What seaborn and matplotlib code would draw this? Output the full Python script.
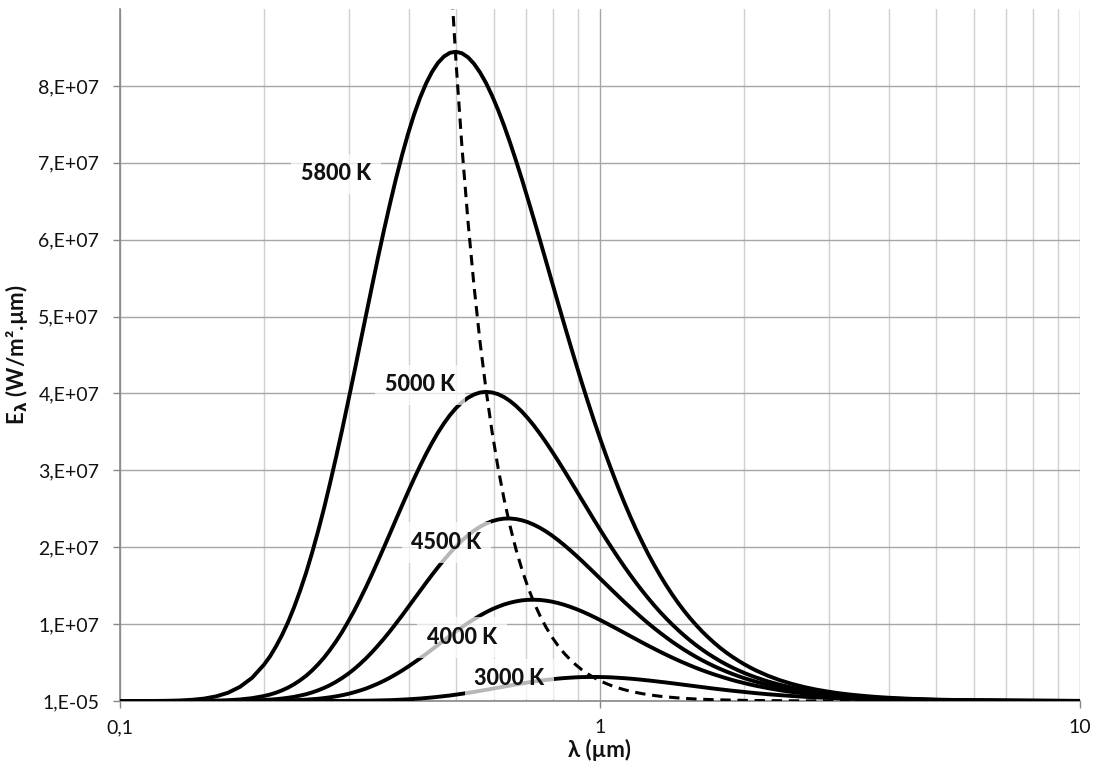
import numpy as np
import pandas as pd
import matplotlib
matplotlib.use("Agg")
import matplotlib.pyplot as plt
import seaborn as sns
from matplotlib.ticker import LogLocator, NullFormatter

# wavelength (µm), main grid
wavelength = [
    0.1000, 0.1059, 0.1122, 0.1189, 0.1259, 0.1334, 0.1413, 0.1496, 0.1585, 0.1679,
    0.1778, 0.1884, 0.1995, 0.2113, 0.2239, 0.2371, 0.2512, 0.2661, 0.2818, 0.2985,
    0.3162, 0.3350, 0.3548, 0.3758, 0.3981, 0.4217, 0.4467,
    0.4732, 0.5012, 0.5309, 0.5623, 0.5957, 0.6310, 0.6683, 0.7079, 0.7499, 0.7943,
    0.8414, 0.8913, 0.9441, 1.0000, 1.0593, 1.1220, 1.1885, 1.2589, 1.3335, 1.4125,
    1.4962, 1.5849, 1.6788, 1.7783, 1.8836, 1.9953, 2.1135,
    2.2387, 2.3714, 2.5119, 2.6607, 2.8184, 2.9854, 3.1623, 3.3497, 3.5481, 3.7584,
    3.9811, 4.2170, 4.4668, 4.7315, 5.0119, 5.3088, 5.6234, 5.9566, 6.3096, 6.6834,
    7.0795, 7.4989, 7.9433, 8.4140, 8.9125, 9.4406, 10.0000,
]
# extra wavelengths (µm) read around the peaks
wavelength_mid = [
    0.2054, 0.2175, 0.2304, 0.2441, 0.2585, 0.2738, 0.2901, 0.3073, 0.3255, 0.3447,
    0.3652, 0.3868, 0.4097, 0.4340, 0.4597, 0.4870, 0.5158, 0.5464, 0.5788, 0.6131,
    0.6494, 0.6879, 0.7286, 0.7718, 0.8175, 0.8660, 0.9173, 0.9716, 1.0292, 1.0902,
    1.1548, 1.2232, 1.2957, 1.3725, 1.4538, 1.5399, 1.6312, 1.7278, 1.8302, 1.9387,
    2.0535,
]

# spectral emissive power, in units of 1e4 W/m².µm
E_5800 = [
    0, 0, 1, 1, 3, 7, 16, 31, 60, 107, 184, 301, 472, 709, 1025, 1429, 1924, 2506, 3166, 3885,
    4638, 5396, 6125, 6794, 7375, 7843, 8182,
    8383, 8444, 8372, 8176, 7874, 7485, 7028, 6524, 5992, 5449, 4909, 4385, 3886, 3417, 2985,
    2590, 2234, 1916, 1636, 1389, 1174, 989, 830, 693, 578, 480, 397,
    328, 270, 222, 182, 149, 122, 99, 81, 66, 53, 43, 35, 28, 23, 18, 15, 12, 10, 8, 6, 5, 4,
    3, 3, 2, 2, 1,
]
E_5800_mid = [
    581, 856, 1216, 1665, 2204, 2828, 3520, 4259, 5019, 5766, 6469, 7097, 7624, 8030, 8300,
    8431, 8424, 8288, 8038, 7689, 7264, 6781, 6261, 5721, 5178, 4645, 4132, 3647, 3196, 2783,
    2407, 2071, 1772, 1508, 1278, 1078, 906, 759, 633, 527, 437,
]
E_5000 = [
    0, 0, 0, 0, 0, 0, 1, 2, 5, 10, 20, 37, 65, 108, 174, 268, 396, 564, 774, 1028,
    1322, 1649, 2000, 2361, 2718, 3055, 3357,
    3612, 3810, 3944, 4012, 4013, 3953, 3838, 3676, 3475, 3247, 3001, 2744, 2486, 2231, 1986,
    1754, 1538, 1340, 1159, 998, 854, 727, 616, 520, 437, 366, 306,
    254, 211, 174, 144, 118, 97, 80, 65, 53, 43, 35, 29, 23, 19, 15, 12, 10, 8, 6, 5, 4,
    3, 3, 2, 2, 1, 1,
]
E_5000_mid = [
    84, 138, 217, 327, 475, 664, 896, 1170, 1482, 1822, 2180, 2541, 2890, 3211, 3491,
    3719, 3885, 3986, 4021, 3991, 3902, 3762, 3580, 3364, 3126, 2873, 2615, 2357, 2107, 1868,
    1644, 1437, 1247, 1076, 924, 789, 670, 567, 477, 400, 335,
]
E_4500 = [
    0, 0, 0, 0, 0, 0, 0, 0, 1, 2, 3, 7, 13, 24, 42, 70, 111, 170, 249, 352,
    481, 635, 812, 1008, 1217, 1430, 1640,
    1836, 2010, 2155, 2266, 2339, 2372, 2366, 2325, 2252, 2152, 2030, 1893, 1746, 1594, 1442,
    1292, 1149, 1013, 888, 772, 668, 574, 491, 418, 354, 298, 251,
    210, 175, 146, 121, 100, 82, 68, 56, 46, 37, 30, 25, 20, 16, 13, 11, 9, 7, 6, 5, 4,
    3, 3, 2, 2, 1, 1,
]
E_4500_mid = [
    18, 32, 54, 88, 138, 206, 298, 413, 555, 721, 908, 1111, 1324, 1536, 1740,
    1926, 2087, 2215, 2307, 2360, 2374, 2350, 2292, 2205, 2093, 1963, 1821, 1671, 1518, 1367,
    1220, 1080, 949, 829, 719, 620, 531, 453, 385, 325, 274,
]
E_4000 = [
    0, 0, 0, 0, 0, 0, 0, 0, 0, 0, 0, 1, 2, 4, 7, 13, 23, 38, 60, 92,
    136, 193, 263, 348, 446, 554, 670,
    788, 905, 1014, 1111, 1193, 1255, 1296, 1316, 1314, 1292, 1252, 1197, 1130, 1054, 973,
    889, 804, 721, 641, 566, 496, 431, 373, 321, 274, 234, 198,
    167, 140, 117, 98, 81, 68, 56, 46, 38, 31, 25, 21, 17, 14, 11, 9, 7, 6, 5, 4, 3,
    3, 2, 2, 1, 1, 1,
]
E_4000_mid = [
    3, 5, 10, 17, 29, 48, 75, 113, 162, 226, 304, 395, 499, 611, 729,
    847, 961, 1064, 1154, 1226, 1278, 1309, 1317, 1305, 1274, 1226, 1165, 1093, 1014, 931,
    846, 762, 681, 603, 530, 463, 401, 346, 297, 253, 215,
]
E_3000 = [
    0, 0, 0, 0, 0, 0, 0, 0, 0, 0, 0, 0, 0, 0, 0, 0, 0, 0, 1, 2,
    3, 5, 9, 14, 22, 32, 46,
    63, 83, 106, 132, 159, 187, 215, 241, 264, 283, 298, 308, 312, 312, 307,
    297, 284, 268, 250, 231, 211, 191, 171, 152, 134, 118, 102,
    88, 76, 65, 55, 47, 40, 33, 28, 23, 19, 16, 13, 11, 9, 7, 6, 5, 4, 3, 3, 2,
    2, 1, 1, 1, 1, 1,
]
E_3000_mid = [
    0, 0, 0, 0, 0, 1, 1, 2, 4, 7, 11, 18, 27, 39, 54,
    72, 94, 118, 145, 173, 201, 228, 253, 274, 291, 303, 311, 313, 310, 302,
    291, 276, 259, 241, 221, 201, 181, 161, 143, 126, 110,
]
# locus of maxima (dashed), main grid from index 27, extra points from index 15
E_max_locus = [
    11081, 8314, 6235, 4675, 3506, 2629, 1972, 1478, 1109, 831, 623, 468, 351, 263, 197,
    148, 111, 83, 62, 47, 35, 26, 20, 15, 11, 8, 6,
    5, 4, 3, 2, 2, 1, 1, 1, 0, 0, 0, 0, 0, 0, 0, 0, 0, 0, 0, 0, 0, 0, 0, 0, 0, 0, 0,
]
E_max_locus_mid = [
    9601, 7200, 5399, 4049, 3036, 2277, 1707, 1280, 960, 720, 540, 405, 304, 228, 171,
    128, 96, 72, 54, 40, 30, 23, 17, 13, 10, 7,
]
locus_start = 27
locus_mid_start = 15

series_names = ["5800 K", "5000 K", "4500 K", "4000 K", "3000 K"]
series_values = [E_5800, E_5000, E_4500, E_4000, E_3000]
series_values_mid = [E_5800_mid, E_5000_mid, E_4500_mid, E_4000_mid, E_3000_mid]
label_x = [0.2818, 0.4217, 0.479, 0.516, 0.648]
label_y = [6.857e7, 4.11e7, 2.06e7, 0.825e7, 0.29e7]

y_ticks = [0, 1e7, 2e7, 3e7, 4e7, 5e7, 6e7, 7e7, 8e7]
y_tick_labels = ["1,E-05", "1,E+07", "2,E+07", "3,E+07", "4,E+07",
                 "5,E+07", "6,E+07", "7,E+07", "8,E+07"]
x_ticks = [0.1, 1, 10]
x_tick_labels = ["0,1", "1", "10"]

UNIT = 1e4

frames = []
for name, vals, vals_mid in zip(series_names, series_values, series_values_mid):
    frames.append(pd.DataFrame({"lam": wavelength + wavelength_mid,
                                "E": np.array(vals + vals_mid) * UNIT,
                                "T": name}))
df = pd.concat(frames, ignore_index=True).sort_values(["T", "lam"])
df_locus = pd.DataFrame({
    "lam": wavelength[locus_start:] + wavelength_mid[locus_mid_start:],
    "E": np.array(E_max_locus + E_max_locus_mid) * UNIT,
}).sort_values("lam")

sns.set_theme(style="white")
plt.rcParams["font.family"] = ["Lato", "DejaVu Sans"]

fig = plt.figure(figsize=(10.96, 7.73), dpi=100)
ax = fig.add_axes([120 / 1096, 1 - 701 / 773, 960 / 1096, 692 / 773])

ax.set_xscale("log")
ax.set_xlim(0.1, 10)
ax.set_ylim(0, 9e7)

# grid
ax.xaxis.set_minor_locator(LogLocator(base=10, subs=np.arange(2, 10)))
ax.xaxis.set_minor_formatter(NullFormatter())
ax.grid(True, which="major", axis="both", color="#a6a6a6", lw=1.0, zorder=0)
ax.grid(True, which="minor", axis="x", color="#cfcfcf", lw=1.0, zorder=0)
ax.set_axisbelow(True)

sns.lineplot(data=df, x="lam", y="E", units="T", estimator=None, sort=False,
             color="black", lw=2.8, ax=ax, legend=False, zorder=3)
sns.lineplot(data=df_locus, x="lam", y="E", estimator=None, sort=False,
             color="black", lw=2.2, ax=ax, legend=False, zorder=3)
ax.lines[-1].set_dashes((3.4, 2.2))
for ln in ax.lines:
    ln.set_solid_joinstyle("round")

for name, lx, ly in zip(series_names, label_x, label_y):
    ax.text(lx, ly, name, ha="center", va="center", fontsize=15.5, fontweight="black",
            color="#111111", zorder=5,
            bbox=dict(boxstyle="square,pad=0.45", fc="white", ec="none", alpha=0.72))

ax.set_yticks(y_ticks, labels=y_tick_labels)
ax.set_xticks(x_ticks, labels=x_tick_labels)
ax.tick_params(axis="both", which="major", labelsize=14, colors="#888888",
               labelcolor="#111111", length=5, width=1, direction="out")
ax.tick_params(axis="x", which="minor", length=0)
ax.tick_params(axis="y", left=True, pad=10)
ax.tick_params(axis="x", bottom=True, pad=8)

for side in ["top", "right"]:
    ax.spines[side].set_visible(False)
for side in ["left", "bottom"]:
    ax.spines[side].set_color("#888888")
    ax.spines[side].set_linewidth(1.2)

ax.set_xlabel("λ (µm)", fontsize=16, fontweight="bold", color="#111111", labelpad=2)
ax.set_ylabel(r"E$_{\mathbf{\lambda}}$ (W/m².µm)", fontsize=16, fontweight="bold",
              color="#111111", labelpad=6)

fig.savefig("out.png", dpi=100)
